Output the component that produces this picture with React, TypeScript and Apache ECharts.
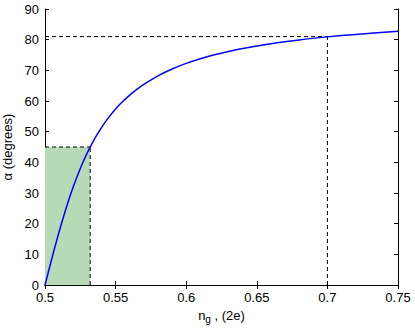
import React, { useEffect, useRef } from "react";
import * as echarts from "echarts";

const ngValues = [0.5, 0.505, 0.51, 0.515, 0.52, 0.525, 0.53, 0.535, 0.54, 0.545, 0.55, 0.555, 0.56, 0.565, 0.57, 0.58, 0.59, 0.6, 0.61, 0.62, 0.63, 0.64, 0.65, 0.66, 0.68, 0.7, 0.72, 0.75];
const alphaValues = [0, 8.88, 17.35, 25.11, 32.0, 38.0, 43.15, 47.57, 51.34, 54.58, 57.38, 59.81, 61.93, 63.79, 65.44, 68.2, 70.43, 72.26, 73.78, 75.07, 76.17, 77.12, 77.96, 78.69, 79.92, 80.91, 81.72, 82.71];
const hLine = [[0.5, 81], [0.7, 81]];
const vLine = [[0.7, 0], [0.7, 81]];
const boxTop = [[0.5, 45], [0.532, 45]];
const boxRight = [[0.532, 0], [0.532, 45]];
const shadeX = [0.5, 0.532];
const shadeY = [0, 45];

const font = "Liberation Sans, Arial, Helvetica, sans-serif";

export default function App() {
  const ref = useRef<HTMLDivElement>(null);
  useEffect(() => {
    const chart = echarts.init(ref.current!, undefined, { renderer: "svg" });
    const axisLine = { show: true, lineStyle: { color: "#000", width: 1 } };
    const tick = { show: true, inside: true, length: 4, lineStyle: { color: "#000" } };
    const label = { color: "#000", fontSize: 13, fontFamily: font };
    const dashed = (data: number[][]) => ({
      type: "line",
      data,
      symbol: "none",
      lineStyle: { color: "#000", width: 1, type: [4, 3] },
      silent: true,
      z: 3,
    });
    chart.setOption({
      animation: false,
      backgroundColor: "#fff",
      grid: { left: 45, right: 17, top: 9, bottom: 48, containLabel: false, outerBoundsMode: "none" },
      xAxis: [
        {
          type: "value",
          min: 0.5,
          max: 0.75,
          interval: 0.05,
          axisLine,
          axisTick: tick,
          splitLine: { show: false },
          axisLabel: { ...label, margin: 6, formatter: (v: number) => String(+v.toFixed(2)) },
          name: "{n|n}{s|g}{n| , (2e)}",
          nameLocation: "middle",
          nameGap: 21,
          nameTextStyle: {
            rich: {
              n: { fontSize: 13, fontFamily: font, color: "#000" },
              s: { fontSize: 10, fontFamily: font, color: "#000", padding: [8, 0, 0, 0] },
            },
          },
        },
        {
          type: "value",
          position: "top",
          min: 0.5,
          max: 0.75,
          interval: 0.05,
          axisLine,
          axisTick: tick,
          axisLabel: { show: false },
          splitLine: { show: false },
        },
      ],
      yAxis: [
        {
          type: "value",
          min: 0,
          max: 90,
          interval: 10,
          axisLine,
          axisTick: tick,
          splitLine: { show: false },
          axisLabel: { ...label, margin: 6 },
          name: "α (degrees)",
          nameLocation: "middle",
          nameGap: 22,
          nameTextStyle: { fontSize: 13, fontFamily: font, color: "#000" },
        },
        {
          type: "value",
          position: "right",
          min: 0,
          max: 90,
          interval: 10,
          axisLine,
          axisTick: tick,
          axisLabel: { show: false },
          splitLine: { show: false },
        },
      ],
      series: [
        {
          type: "line",
          data: [],
          silent: true,
          markArea: {
            silent: true,
            itemStyle: { color: "#b5dab5", opacity: 1 },
            data: [[{ coord: [shadeX[0], shadeY[0]] }, { coord: [shadeX[1], shadeY[1]] }]],
          },
          z: 1,
        },
        dashed(hLine),
        dashed(vLine),
        dashed(boxTop),
        dashed(boxRight),
        {
          type: "line",
          data: ngValues.map((x, i) => [x, alphaValues[i]]),
          symbol: "none",
          smooth: 0.3,
          lineStyle: { color: "#0000ff", width: 1.5 },
          z: 4,
        },
      ],
    });
    return () => chart.dispose();
  }, []);
  return <div ref={ref} style={{ width: 415, height: 333, position: "absolute", left: 0, top: 0 }} />;
}
